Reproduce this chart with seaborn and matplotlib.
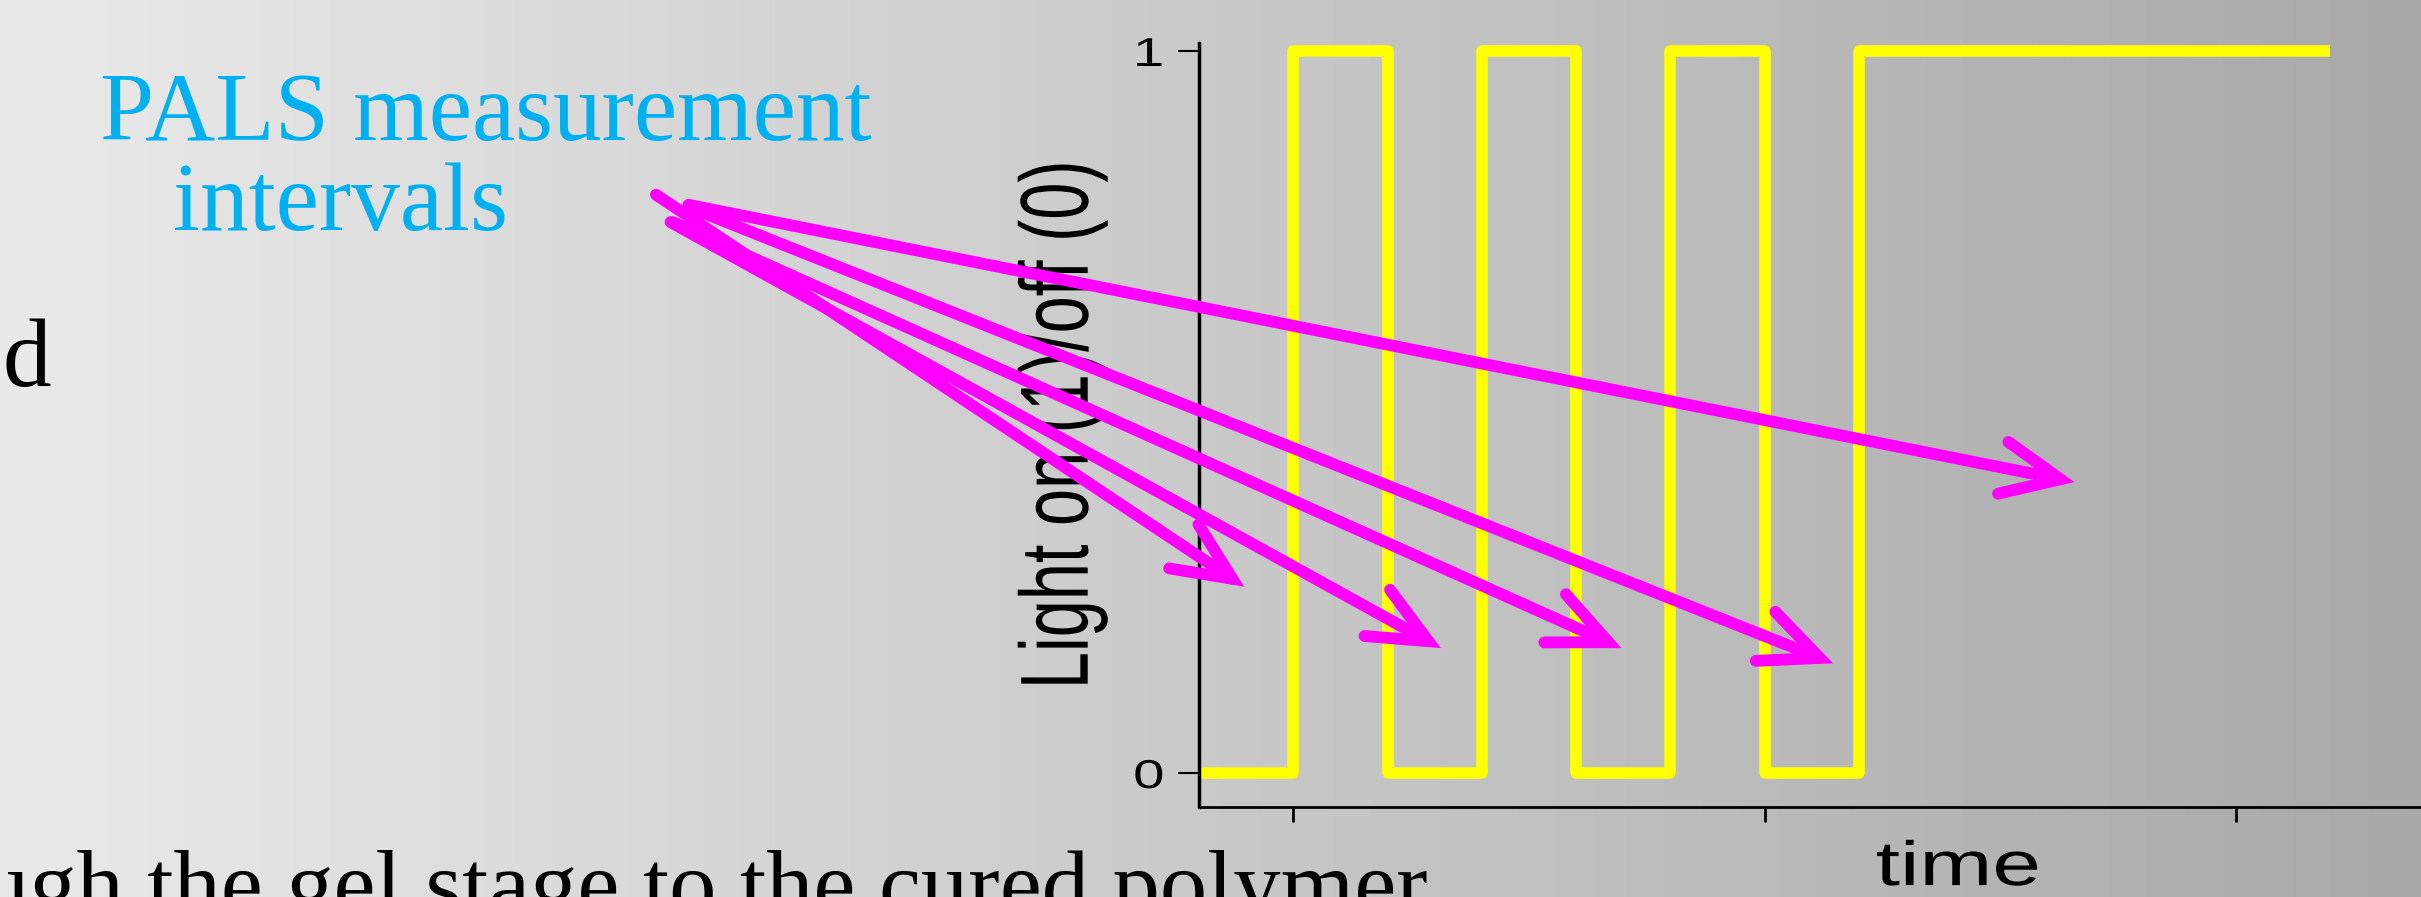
import numpy as np
import pandas as pd
import matplotlib
matplotlib.use("Agg")
import matplotlib.pyplot as plt
import seaborn as sns
from matplotlib.patheffects import AbstractPathEffect
from matplotlib.transforms import Affine2D

# ---------------- data ----------------
time_points = [8, 10, 12, 14, 16, 18, 20, 22, 32]
light_state = [0, 1, 0, 1, 0, 1, 0, 1, 1]
x_ticks = [10, 20, 30]
y_ticks = [0, 1]
y_tick_labels = ["0", "1"]

arrow_tail_x = [-3.52, -3.21, -3.16, -2.83, -2.83]
arrow_tail_y = [0.801, 0.763, 0.763, 0.784, 0.787]
arrow_head_x = [8.96, 13.13, 16.96, 21.45, 26.57]
arrow_head_y = [0.258, 0.173, 0.173, 0.152, 0.403]

title_line1 = "PALS measurement"
title_line2 = "intervals"
left_fragment = "d"
bottom_text = "through the gel stage to the cured polymer"
x_label = "time"
y_label = "Light on (1)/off (0)"


class HStretch(AbstractPathEffect):
    """Stretch drawn glyphs horizontally about their own centre (chart image was stretched)."""
    def __init__(self, sx=1.4):
        super().__init__()
        self.sx = sx

    def draw_path(self, renderer, gc, tpath, affine, rgbFace=None):
        if len(tpath.vertices) == 0:
            return
        ext = tpath.get_extents(affine)
        cx = 0.5 * (ext.x0 + ext.x1)
        extra = Affine2D().translate(-cx, 0).scale(self.sx, 1.0).translate(cx, 0)
        renderer.draw_path(gc, tpath, affine + extra, rgbFace)


sns.set_style("ticks")
plt.rcParams["font.family"] = ["Liberation Sans", "DejaVu Sans"]

W, H = 2421, 897
fig = plt.figure(figsize=(W / 100, H / 100), dpi=100)

# slide background gradient
bg = fig.add_axes([0, 0, 1, 1], zorder=-10)
grad = np.linspace(233, 168, 512) / 255.0
bg.imshow(np.tile(grad, (2, 1)), cmap="gray", vmin=0, vmax=1,
          aspect="auto", extent=[0, 1, 0, 1])
bg.set_axis_off()

ax = fig.add_axes([1199 / W, 90 / H, 1518 / W, 764 / H])
ax.set_facecolor("none")

df = pd.DataFrame({"time": time_points, "light": light_state})
sns.lineplot(data=df, x="time", y="light", drawstyle="steps-post",
             color="#FFFF00", lw=8.3, ax=ax, estimator=None,
             solid_joinstyle="round", solid_capstyle="butt")

ax.set_xlim(8, 40.2)
ax.set_ylim(-0.0471, 1.0111)
ax.spines[["top", "right"]].set_visible(False)
ax.spines["left"].set_linewidth(2.5)
ax.spines["bottom"].set_linewidth(2)
for s in ("left", "bottom"):
    ax.spines[s].set_color("black")

ax.set_xticks(x_ticks)
ax.set_yticks(y_ticks, y_tick_labels)
ax.tick_params(axis="y", direction="out", length=15, width=1.5,
               labelsize=29, pad=13, colors="black")
ax.tick_params(axis="x", direction="out", length=11, width=2,
               labelbottom=False, colors="black")
for lab in ax.get_yticklabels():
    lab.set_path_effects([HStretch(1.4)])

ax.set_ylabel(y_label, fontsize=48, color="black")
ax.yaxis.set_label_coords(-0.0692, 0.5)
ax.yaxis.label.set_path_effects([HStretch(1.45)])

ax.set_xlabel(x_label, fontsize=45, color="black")
ax.xaxis.set_label_coords(0.5, -0.042)
ax.xaxis.label.set_path_effects([HStretch(1.4)])

for tx, ty, hx, hy in zip(arrow_tail_x, arrow_tail_y, arrow_head_x, arrow_head_y):
    ax.annotate("", xy=(hx, hy), xytext=(tx, ty), xycoords="data",
                textcoords="data", annotation_clip=False, zorder=6,
                arrowprops=dict(arrowstyle="->,head_length=2.1,head_width=0.95",
                                color="#FF00FF", lw=8.5, shrinkA=0, shrinkB=0,
                                mutation_scale=20, capstyle="round",
                                joinstyle="miter"))

serif = ["Liberation Serif", "DejaVu Serif"]
fig.text(100 / W, 757 / H, title_line1, fontsize=70, family=serif,
         color="#00B0F0", ha="left", va="baseline")
fig.text(173 / W, 667 / H, title_line2, fontsize=70, family=serif,
         color="#00B0F0", ha="left", va="baseline")
fig.text(51 / W, 511 / H, left_fragment, fontsize=70, family=serif,
         color="black", ha="right", va="baseline")
fig.text(1428 / W, -18 / H, bottom_text, fontsize=68, family=serif,
         color="black", ha="right", va="baseline")

fig.savefig("out.png", dpi=100)
